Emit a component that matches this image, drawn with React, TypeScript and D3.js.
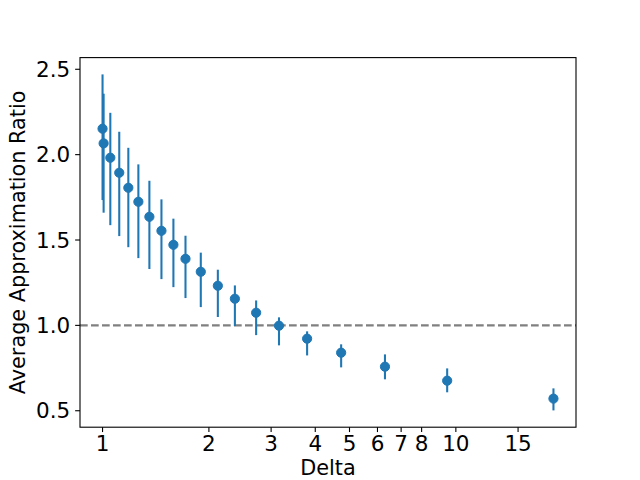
import { scaleLog, scaleLinear, format } from "d3";

const deltas = [1.0, 1.007, 1.052, 1.115, 1.183, 1.263, 1.357, 1.468, 1.587, 1.717, 1.897, 2.12, 2.369, 2.721, 3.158, 3.793, 4.735, 6.3, 9.45, 18.89];
const means = [2.152, 2.066, 1.982, 1.894, 1.806, 1.724, 1.636, 1.554, 1.472, 1.39, 1.314, 1.232, 1.156, 1.074, 0.998, 0.922, 0.84, 0.758, 0.676, 0.571];
const upper = [2.47, 2.357, 2.245, 2.134, 2.04, 1.943, 1.847, 1.738, 1.625, 1.525, 1.426, 1.326, 1.234, 1.146, 1.047, 0.965, 0.889, 0.83, 0.748, 0.631];
const lower = [1.734, 1.66, 1.587, 1.523, 1.458, 1.394, 1.33, 1.271, 1.224, 1.16, 1.107, 1.049, 0.996, 0.943, 0.883, 0.824, 0.754, 0.684, 0.608, 0.502];
const xTicks = [1, 2, 3, 4, 5, 6, 7, 8, 10, 15];
const yTicks = [0.5, 1.0, 1.5, 2.0, 2.5];
const refLine = 1.0;

const W = 640;
const H = 480;
const left = 80;
const right = 576;
const top = 57.6;
const bottom = 427.2;
const blue = "#1f77b4";
const font = "'DejaVu Sans', sans-serif";
const tickFont = 21.5;
const labelFont = 20.8;

export default function App() {
  // matplotlib-style 5% margins (in log space for x)
  const lx0 = Math.log10(Math.min(...deltas));
  const lx1 = Math.log10(Math.max(...deltas));
  const padX = (lx1 - lx0) * 0.05;
  const x = scaleLog()
    .domain([Math.pow(10, lx0 - padX), Math.pow(10, lx1 + padX)])
    .range([left, right]);

  const y0 = Math.min(...lower);
  const y1 = Math.max(...upper);
  const padY = (y1 - y0) * 0.05;
  const y = scaleLinear().domain([y0 - padY, y1 + padY]).range([bottom, top]);

  const fmt = format(".1f");
  const tickLen = 4.86;

  return (
    <svg
      width={W}
      height={H}
      style={{ position: "absolute", left: 0, top: 0, background: "#fff" }}
      fontFamily={font}
    >
      <rect x={0} y={0} width={W} height={H} fill="#fff" />

      {/* reference line */}
      <line
        x1={left}
        x2={right}
        y1={y(refLine)}
        y2={y(refLine)}
        stroke="#808080"
        strokeWidth={2.08}
        strokeDasharray="7.7,3.3"
      />

      {/* error bars */}
      {deltas.map((d, i) => (
        <line
          key={"e" + i}
          x1={x(d)}
          x2={x(d)}
          y1={y(lower[i])}
          y2={y(upper[i])}
          stroke={blue}
          strokeWidth={2.08}
        />
      ))}

      {/* markers */}
      {deltas.map((d, i) => (
        <circle key={"m" + i} cx={x(d)} cy={y(means[i])} r={4.6} fill={blue} stroke={blue} strokeWidth={1} />
      ))}

      {/* frame */}
      <rect x={left} y={top} width={right - left} height={bottom - top} fill="none" stroke="#000" strokeWidth={1.1} />

      {/* x ticks */}
      {xTicks.map((t) => (
        <g key={"x" + t} transform={`translate(${x(t)},0)`}>
          <line y1={bottom} y2={bottom + tickLen} stroke="#000" strokeWidth={1.1} />
          <text y={451} textAnchor="middle" fontSize={tickFont} fill="#000">
            {t}
          </text>
        </g>
      ))}

      {/* y ticks */}
      {yTicks.map((t) => (
        <g key={"y" + t} transform={`translate(0,${y(t)})`}>
          <line x1={left - tickLen} x2={left} stroke="#000" strokeWidth={1.1} />
          <text x={left - tickLen - 4.9} dy="0.36em" textAnchor="end" fontSize={tickFont} fill="#000">
            {fmt(t)}
          </text>
        </g>
      ))}

      <text x={(left + right) / 2} y={475} textAnchor="middle" fontSize={labelFont} fill="#000">
        Delta
      </text>
      <text
        transform={`translate(25,${(top + bottom) / 2}) rotate(-90)`}
        textAnchor="middle"
        fontSize={labelFont}
        fill="#000"
      >
        Average Approximation Ratio
      </text>
    </svg>
  );
}
